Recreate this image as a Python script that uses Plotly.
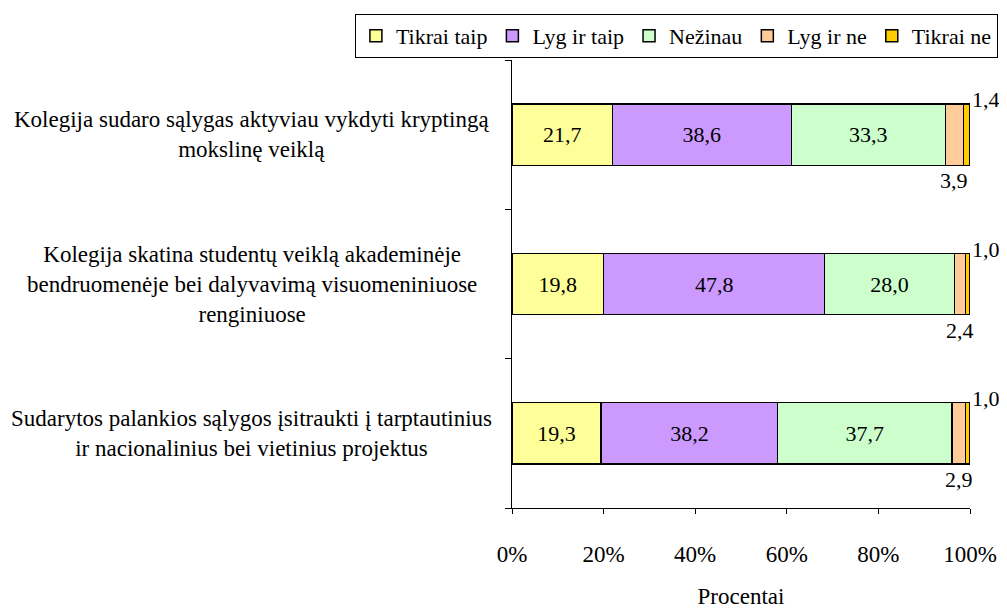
import plotly.graph_objects as go

categories = [
    "Kolegija sudaro sąlygas aktyviau vykdyti kryptingą<br>mokslinę veiklą",
    "Kolegija skatina studentų veiklą akademinėje<br>bendruomenėje bei dalyvavimą visuomeniniuose<br>renginiuose",
    "Sudarytos palankios sąlygos įsitraukti į tarptautinius<br>ir nacionalinius bei vietinius projektus",
]
series_names = ["Tikrai taip", "Lyg ir taip", "Nežinau", "Lyg ir ne", "Tikrai ne"]
tikrai_taip = [21.7, 19.8, 19.3]
lyg_ir_taip = [38.6, 47.8, 38.2]
nezinau = [33.3, 28.0, 37.7]
lyg_ir_ne = [3.9, 2.4, 2.9]
tikrai_ne = [1.4, 1.0, 1.0]
colors = ["#FFFF99", "#CC99FF", "#CCFFCC", "#FFCC99", "#FFCC00"]
x_ticks = [0, 20, 40, 60, 80, 100]

FONT = "Liberation Serif"
FS = 23
values = [tikrai_taip, lyg_ir_taip, nezinau, lyg_ir_ne, tikrai_ne]
ypos = list(range(len(categories)))

fig = go.Figure()
for i, (name, vals, col) in enumerate(zip(series_names, values, colors)):
    inside = i < 3
    fig.add_trace(go.Bar(
        name=name, y=ypos, x=vals, orientation="h",
        marker=dict(color=col, line=dict(color="black", width=1.5)),
        width=0.41,
        text=[f"{v:.1f}".replace(".", ",") for v in vals] if inside else None,
        textposition="inside" if inside else "none",
        insidetextanchor="middle",
        textfont=dict(family=FONT, size=22, color="black"),
        hoverinfo="skip",
    ))

annotations = []
for j, cat in enumerate(categories):
    annotations.append(dict(
        x=-0.5677, xref="paper", y=j, yref="y", text=cat, showarrow=False,
        xanchor="center", yanchor="middle", align="center",
        font=dict(family=FONT, size=FS, color="black"),
    ))
for j in range(len(categories)):
    total = sum(v[j] for v in values)
    base = (tikrai_taip[j] + lyg_ir_taip[j] + nezinau[j]) / total * 100
    annotations.append(dict(
        x=base + lyg_ir_ne[j] / total * 100 / 2, y=j, xref="x", yref="y",
        text=f"{lyg_ir_ne[j]:.1f}".replace(".", ","), showarrow=False,
        xanchor="center", yanchor="middle", yshift=-46,
        font=dict(family=FONT, size=22, color="black"),
    ))
    annotations.append(dict(
        x=100, y=j, xref="x", yref="y",
        text=f"{tikrai_ne[j]:.1f}".replace(".", ","), showarrow=False,
        xanchor="left", yanchor="middle", yshift=35, xshift=0,
        font=dict(family=FONT, size=22, color="black"),
    ))

fig.update_layout(
    barmode="stack",
    barnorm="percent",
    width=999, height=605,
    margin=dict(l=504, r=37, t=52, b=105, autoexpand=False),
    paper_bgcolor="white", plot_bgcolor="white",
    font=dict(family=FONT, size=FS, color="black"),
    showlegend=True,
    legend=dict(
        orientation="h", x=-0.343, xanchor="left", y=1.1027, yanchor="top",
        bordercolor="black", borderwidth=1, bgcolor="white",
        font=dict(family=FONT, size=22, color="black"),
        traceorder="normal", itemwidth=30,
    ),
    annotations=annotations,
    xaxis=dict(
        range=[0, 100], tickvals=x_ticks, ticktext=[f"{t}%" for t in x_ticks],
        showline=True, linecolor="black", linewidth=1,
        ticks="outside", ticklen=5, tickcolor="black",
        showgrid=False, zeroline=False,
        ticklabelstandoff=20,
        title=dict(text="Procentai", font=dict(family=FONT, size=FS), standoff=22),
        tickfont=dict(family=FONT, size=FS),
    ),
    yaxis=dict(
        range=[2.5, -0.5], tickvals=[-0.5, 0.5, 1.5, 2.5], showticklabels=False,
        showline=True, linecolor="black", linewidth=1,
        ticks="outside", ticklen=6, tickcolor="black",
        showgrid=False, zeroline=False,
    ),
)

fig.write_html("out.html")
